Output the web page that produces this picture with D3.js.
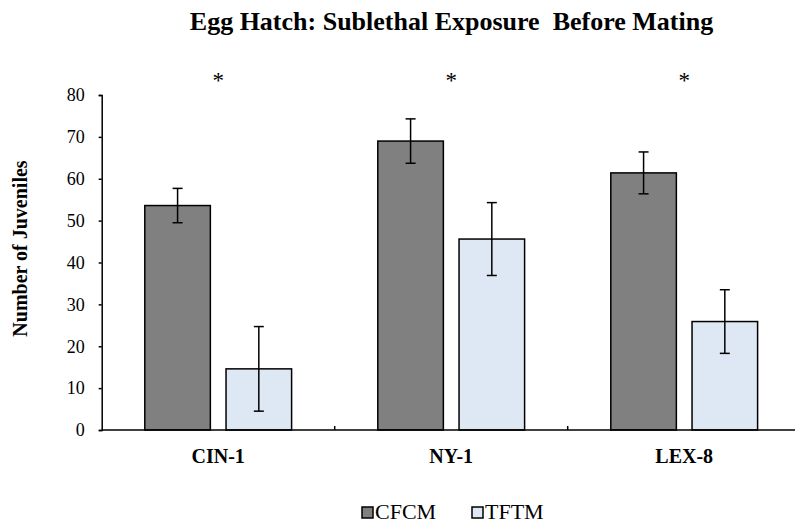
<!DOCTYPE html>
<html>
<head>
<meta charset="utf-8">
<script src="https://cdn.jsdelivr.net/npm/d3@7"></script>
<style>
  html, body { margin: 0; padding: 0; background: #fff; }
  svg { display: block; }
  text { font-family: "Liberation Serif", "Times New Roman", serif; fill: #000; }
</style>
</head>
<body>
<svg id="chart" width="795" height="524"></svg>
<script>
// Strains and treatment groups
const strains = ["CIN-1", "NY-1", "LEX-8"];
const groups = ["CFCM", "TFTM"];

// Mean number of juveniles per strain
const cfcmMeans = [53.6, 69.0, 61.4];
const tftmMeans = [14.6, 45.6, 25.9];

// Error bar half-widths
const cfcmErr = [4.1, 5.3, 5.0];
const tftmErr = [10.1, 8.7, 7.6];

// Significance markers above each strain
const sigMarks = ["*", "*", "*"];

// Y axis ticks
const yTicks = [0, 10, 20, 30, 40, 50, 60, 70, 80];

const titleText = "Egg Hatch: Sublethal Exposure  Before Mating";
const yLabelText = "Number of Juveniles";

const fills = { CFCM: "#808080", TFTM: "#dee8f4" };
const serif = "'Liberation Serif', 'Times New Roman', serif";

const rows = strains.map((s, i) => ({
  strain: s,
  values: [
    { group: "CFCM", mean: cfcmMeans[i], err: cfcmErr[i] },
    { group: "TFTM", mean: tftmMeans[i], err: tftmErr[i] }
  ]
}));

const svg = d3.select("#chart");

const plot = { left: 101.7, right: 800.7, top: 95, bottom: 430 };

const x = d3.scaleBand().domain(strains).range([plot.left, plot.right]).padding(0);
const xg = d3.scaleBand().domain(groups)
  .range([-73.4, 73.4]).paddingInner(0.193).paddingOuter(0);
const y = d3.scaleLinear().domain([0, 80]).range([plot.bottom, plot.top]);

// Title
svg.append("text")
  .attr("x", 451.5).attr("y", 30)
  .attr("text-anchor", "middle")
  .attr("font-size", 26).attr("font-weight", "bold")
  .style("white-space", "pre")
  .text(titleText);

// Y axis
const yAxis = d3.axisLeft(y).tickValues(yTicks).tickSize(3).tickPadding(14);
const yg = svg.append("g").attr("transform", `translate(${plot.left},0)`).call(yAxis);
yg.attr("font-family", serif);
yg.select(".domain").attr("stroke", "#000").attr("stroke-width", 1.5);
yg.selectAll(".tick line").attr("stroke", "#000").attr("stroke-width", 1.5);
yg.selectAll(".tick text")
  .attr("font-size", 18)
  .style("font-family", serif)
  .attr("fill", "#000");

// Y axis title
svg.append("text")
  .attr("transform", "translate(27,248.5) rotate(-90)")
  .attr("text-anchor", "middle")
  .attr("font-size", 20).attr("font-weight", "bold")
  .text(yLabelText);

// Bars
const groupsG = svg.append("g").selectAll("g")
  .data(rows).join("g")
  .attr("transform", d => `translate(${x(d.strain) + x.bandwidth() / 2},0)`);

groupsG.selectAll("rect")
  .data(d => d.values).join("rect")
  .attr("x", d => xg(d.group))
  .attr("width", xg.bandwidth())
  .attr("y", d => y(d.mean))
  .attr("height", d => y(0) - y(d.mean))
  .attr("fill", d => fills[d.group])
  .attr("stroke", "#000")
  .attr("stroke-width", 1.5);

// Error bars
const eb = groupsG.selectAll("g.err")
  .data(d => d.values).join("g").attr("class", "err")
  .attr("transform", d => `translate(${xg(d.group) + xg.bandwidth() / 2},0)`);
eb.append("line")
  .attr("y1", d => y(d.mean + d.err)).attr("y2", d => y(d.mean - d.err))
  .attr("stroke", "#000").attr("stroke-width", 1.5);
eb.selectAll("line.cap")
  .data(d => [d.mean + d.err, d.mean - d.err]).join("line").attr("class", "cap")
  .attr("x1", -5).attr("x2", 5)
  .attr("y1", v => y(v)).attr("y2", v => y(v))
  .attr("stroke", "#000").attr("stroke-width", 1.5);

// X axis line with dividing ticks between strains
svg.append("line")
  .attr("x1", plot.left).attr("x2", 795)
  .attr("y1", y(0)).attr("y2", y(0))
  .attr("stroke", "#000").attr("stroke-width", 1.5);
svg.append("g").selectAll("line")
  .data(strains.slice(1)).join("line")
  .attr("x1", d => x(d)).attr("x2", d => x(d))
  .attr("y1", y(0)).attr("y2", y(0) - 4)
  .attr("stroke", "#000").attr("stroke-width", 1.5);

// Strain labels
svg.append("g").selectAll("text")
  .data(strains).join("text")
  .attr("x", d => x(d) + x.bandwidth() / 2)
  .attr("y", 463)
  .attr("text-anchor", "middle")
  .attr("font-size", 20).attr("font-weight", "bold")
  .text(d => d);

// Significance asterisks
svg.append("g").selectAll("text")
  .data(strains).join("text")
  .attr("x", d => x(d) + x.bandwidth() / 2)
  .attr("y", 88)
  .attr("text-anchor", "middle")
  .attr("font-size", 23)
  .text((d, i) => sigMarks[i]);

// Legend
const legendItems = [
  { group: "CFCM", x: 362 },
  { group: "TFTM", x: 472 }
];
const lg = svg.append("g").selectAll("g")
  .data(legendItems).join("g")
  .attr("transform", d => `translate(${d.x},507)`);
lg.append("rect")
  .attr("width", 11).attr("height", 11)
  .attr("fill", d => fills[d.group])
  .attr("stroke", "#000").attr("stroke-width", 1.5);
lg.append("text")
  .attr("x", 13).attr("y", 11.5)
  .attr("font-size", 22)
  .text(d => d.group);
</script>
</body>
</html>
